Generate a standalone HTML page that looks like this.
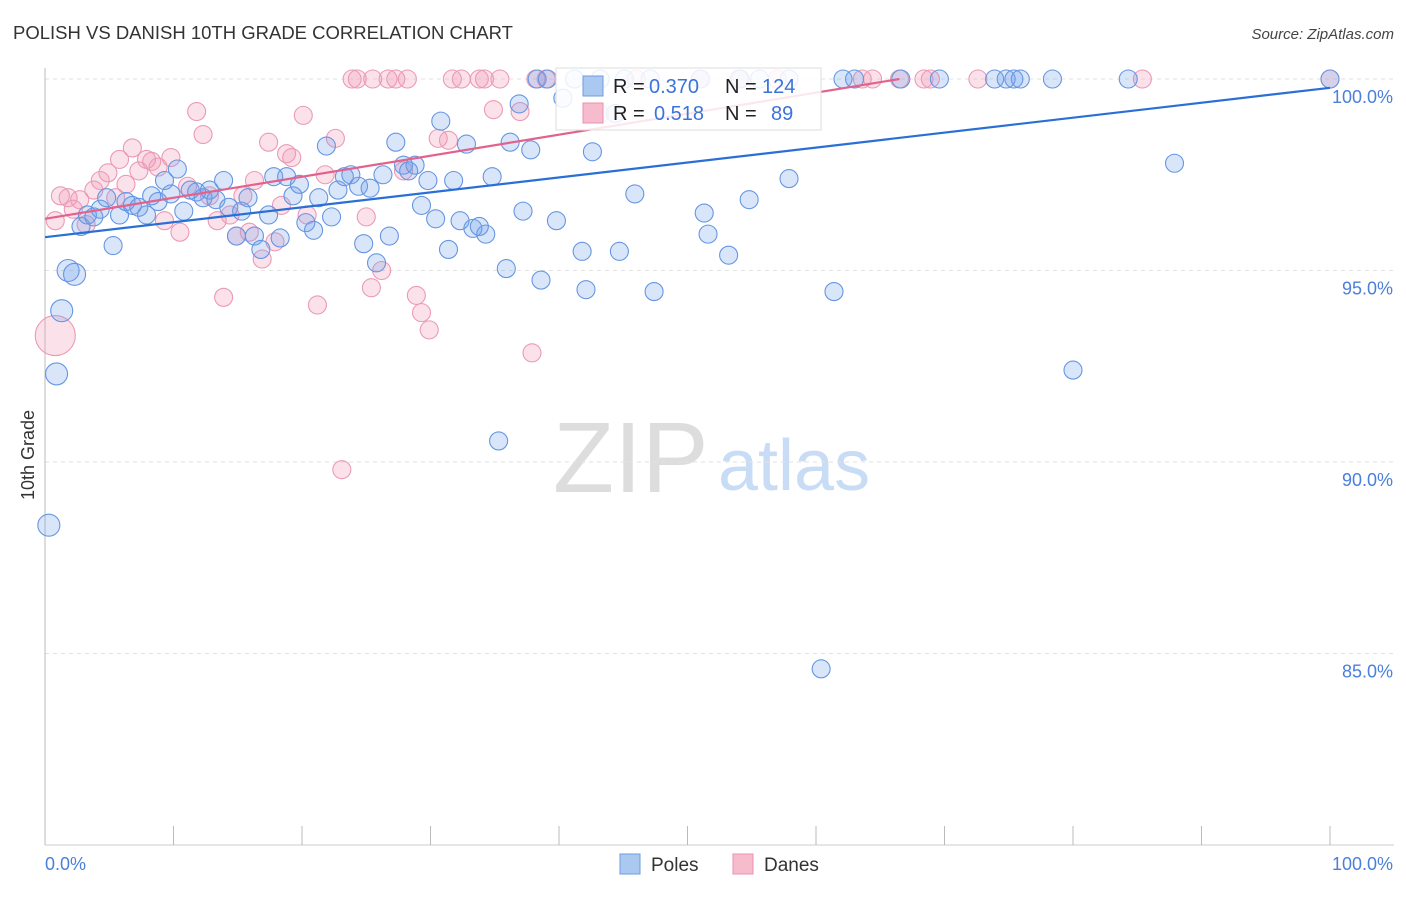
<!DOCTYPE html>
<html><head><meta charset="utf-8"><style>
body{margin:0;background:#fff;font-family:"Liberation Sans",sans-serif;}
svg text{font-family:"Liberation Sans",sans-serif;}
</style></head><body>
<svg id="chart" width="1406" height="892" xmlns="http://www.w3.org/2000/svg">
<text x="13" y="39" font-size="18.5" fill="#333">POLISH VS DANISH 10TH GRADE CORRELATION CHART</text>
<text x="1394" y="39" font-size="15" fill="#444" text-anchor="end" font-style="italic">Source: ZipAtlas.com</text>
<g>
<text x="553" y="492" font-size="100" fill="#ddd" font-family="Liberation Serif, serif">ZIP</text>
<text x="718" y="490" font-size="72" fill="#c9dcf5">atlas</text>
</g>
<g id="grid"></g>
<g id="axes"></g>
<g id="pts"></g>
<g id="lines"></g>
<text transform="translate(34,455) rotate(-90)" font-size="18" fill="#333" text-anchor="middle">10th Grade</text>
<g>
<rect x="556" y="68" width="265" height="62" fill="#fff" fill-opacity="0.85" stroke="#ddd"/>
<rect x="583" y="76" width="20" height="20" fill="#aac8f0" stroke="#6d9de0"/>
<text x="613" y="93" font-size="20" fill="#222">R =</text>
<text x="649" y="93" font-size="20" fill="#3b73d9">0.370</text>
<text x="725" y="93" font-size="20" fill="#222">N =</text>
<text x="762" y="93" font-size="20" fill="#3b73d9">124</text>
<rect x="583" y="103" width="20" height="20" fill="#f6bccd" stroke="#e890b0"/>
<text x="613" y="120" font-size="20" fill="#222">R =</text>
<text x="654" y="120" font-size="20" fill="#3b73d9">0.518</text>
<text x="725" y="120" font-size="20" fill="#222">N =</text>
<text x="771" y="120" font-size="20" fill="#3b73d9">89</text>
</g>
<g>
<rect x="620" y="854" width="20" height="20" fill="#aac8f0" stroke="#6d9de0"/>
<text x="651" y="871" font-size="19" fill="#333">Poles</text>
</g>
<g>
<rect x="733" y="854" width="20" height="20" fill="#f6bccd" stroke="#e890b0"/>
<text x="764" y="871" font-size="19" fill="#333">Danes</text>
</g>
</svg>
<script>
const yTicks=[100,95,90,85];
const yTickLabels=["100.0%","95.0%","90.0%","85.0%"];
const xTicks=[0,10,20,30,40,50,60,70,80,90,100];
const polesX=[0.3,0.9,1.3,1.8,2.3,2.8,3.3,3.8,4.3,4.8,5.3,5.8,6.3,6.8,7.3,7.9,8.3,8.8,9.3,9.8,10.3,10.8,11.3,11.8,12.3,12.8,13.3,13.9,14.3,14.9,15.3,15.8,16.3,16.8,17.4,17.8,18.3,18.8,19.3,19.8,20.3,20.9,21.3,21.9,22.3,22.8,23.3,23.8,24.4,24.8,25.3,25.8,26.3,26.8,27.3,27.9,28.3,28.8,29.3,29.8,30.4,30.8,31.4,31.8,32.3,32.8,33.3,33.8,34.3,34.8,35.3,35.9,36.2,36.9,37.2,37.8,38.3,38.6,39.1,39.8,40.3,41.2,41.8,42.1,42.6,44.7,45.9,47.4,51.3,51.6,53.2,54.8,57.9,60.4,61.4,62.1,63.0,66.6,69.6,73.9,74.8,75.4,75.9,78.4,80.0,84.3,87.9,100,43.2,45.1,47.1,51,54.1,55.6,57.9,44.4];
const polesY=[88.35,92.3,93.95,95.0,94.9,96.15,96.45,96.4,96.6,96.9,95.65,96.45,96.8,96.7,96.65,96.45,96.95,96.8,97.35,97.0,97.65,96.55,97.1,97.05,96.9,97.1,96.85,97.35,96.65,95.9,96.55,96.9,95.9,95.55,96.45,97.45,95.85,97.45,96.95,97.25,96.25,96.05,96.9,98.25,96.4,97.1,97.45,97.5,97.2,95.7,97.15,95.2,97.5,95.9,98.35,97.75,97.6,97.75,96.7,97.35,96.35,98.9,95.55,97.35,96.3,98.3,96.1,96.15,95.95,97.45,90.55,95.05,98.35,99.35,96.55,98.15,100,94.75,100,96.3,99.5,100,95.5,94.5,98.1,95.5,97.0,94.45,96.5,95.95,95.4,96.85,97.4,84.6,94.45,100,100,100,100,100,100,100,100,100,92.4,100,97.8,100,100,100,100,100,100,100,100,99.1];
const danesX=[0.8,1.2,1.8,2.2,2.7,3.2,3.8,4.3,4.9,5.5,5.8,6.3,6.8,7.3,7.9,8.3,8.8,9.3,9.8,10.5,11.1,11.8,12.3,12.8,13.4,13.9,14.4,14.9,15.4,15.9,16.3,16.9,17.4,17.9,18.4,18.8,19.2,20.1,20.4,21.2,21.8,22.6,23.1,23.9,24.3,25,25.4,25.5,26.2,26.7,27.3,27.9,28.2,28.9,29.3,29.9,30.6,31.4,31.7,32.4,33.8,34.2,34.9,35.4,36.97,37.9,38.2,39.0,43.2,63.6,64.4,66.5,68.4,68.9,72.6,85.4,100,46,51,54,57];
const danesY=[96.3,96.95,96.9,96.6,96.85,96.2,97.1,97.35,97.55,96.9,97.9,97.25,98.2,97.6,97.9,97.85,97.7,96.3,97.95,96.0,97.2,99.15,98.55,96.95,96.3,94.3,96.45,95.9,96.95,96.0,97.35,95.3,98.35,95.75,96.7,98.05,97.95,99.05,96.45,94.1,97.5,98.45,89.8,100,100,96.4,94.55,100,95.0,100,100,97.6,100,94.35,93.9,93.45,98.45,98.4,100,100,100,100,99.2,100,99.15,92.85,100,100,99.1,100,100,100,100,100,100,100,100,100,100,100,100];
const bigDaneX=[0.8], bigDaneY=[93.3];
const polesTrend=[[0,95.87],[100,99.77]];
const danesTrend=[[0,96.35],[66.5,100]];

const NS="http://www.w3.org/2000/svg";
const X0=45,X1=1330,YTOP=79,PXPER=38.3;
const sx=v=>X0+(X1-X0)*v/100;
const sy=v=>YTOP+(100-v)*PXPER;
function mk(tag,attrs,parent){const e=document.createElementNS(NS,tag);for(const k in attrs)e.setAttribute(k,attrs[k]);parent.appendChild(e);return e;}
const grid=document.getElementById('grid'),axes=document.getElementById('axes'),pts=document.getElementById('pts'),lines=document.getElementById('lines');
yTicks.forEach((t,i)=>{
 const l=mk('line',{x1:X0,x2:1394,y1:sy(t),y2:sy(t),stroke:'#e2e2e2','stroke-dasharray':'4,4'},grid);
 
 
 const tx=mk('text',{x:1393,y:sy(t)+24,'font-size':18,fill:'#4a7fdb','text-anchor':'end'},axes);
 tx.textContent=yTickLabels[i];
 
 
});
let a=mk('line',{x1:X0,x2:X0,y1:68,y2:845,stroke:'#bbb'},axes);


a=mk('line',{x1:X0,x2:1394,y1:845,y2:845,stroke:'#ccc'},axes);


xTicks.forEach(t=>{
 const l=mk('line',{x1:sx(t),x2:sx(t),y1:826,y2:845,stroke:'#bbb'},axes);
 
 
});
let t0=mk('text',{x:45,y:870,'font-size':18,fill:'#4a7fdb'},axes);t0.textContent='0.0%';


let t1=mk('text',{x:1393,y:870,'font-size':18,fill:'#4a7fdb','text-anchor':'end'},axes);t1.textContent='100.0%';


danesX.forEach((x,i)=>{
 const c=mk('circle',{cx:sx(x),cy:sy(danesY[i]),r:9,fill:'rgba(242,150,180,0.28)',stroke:'#eb9ab5','stroke-width':1.1},pts);
 
 
});
bigDaneX.forEach((x,i)=>{
 const c=mk('circle',{cx:sx(x),cy:sy(bigDaneY[i]),r:20,fill:'rgba(242,150,180,0.28)',stroke:'#eb9ab5','stroke-width':1.1},pts);
 
 
});
polesX.forEach((x,i)=>{
 const r=(x<2.5)?11:9;
 const c=mk('circle',{cx:sx(x),cy:sy(polesY[i]),r:r,fill:'rgba(110,160,235,0.26)',stroke:'#6696e2','stroke-width':1.1},pts);
 
 
});
let pl=mk('line',{x1:sx(polesTrend[0][0]),y1:sy(polesTrend[0][1]),x2:sx(polesTrend[1][0]),y2:sy(polesTrend[1][1]),stroke:'#2a6fd6','stroke-width':2.2},lines);


let dl=mk('line',{x1:sx(danesTrend[0][0]),y1:sy(danesTrend[0][1]),x2:sx(danesTrend[1][0]),y2:sy(danesTrend[1][1]),stroke:'#e2628c','stroke-width':2.2},lines);


</script>
</body></html>
